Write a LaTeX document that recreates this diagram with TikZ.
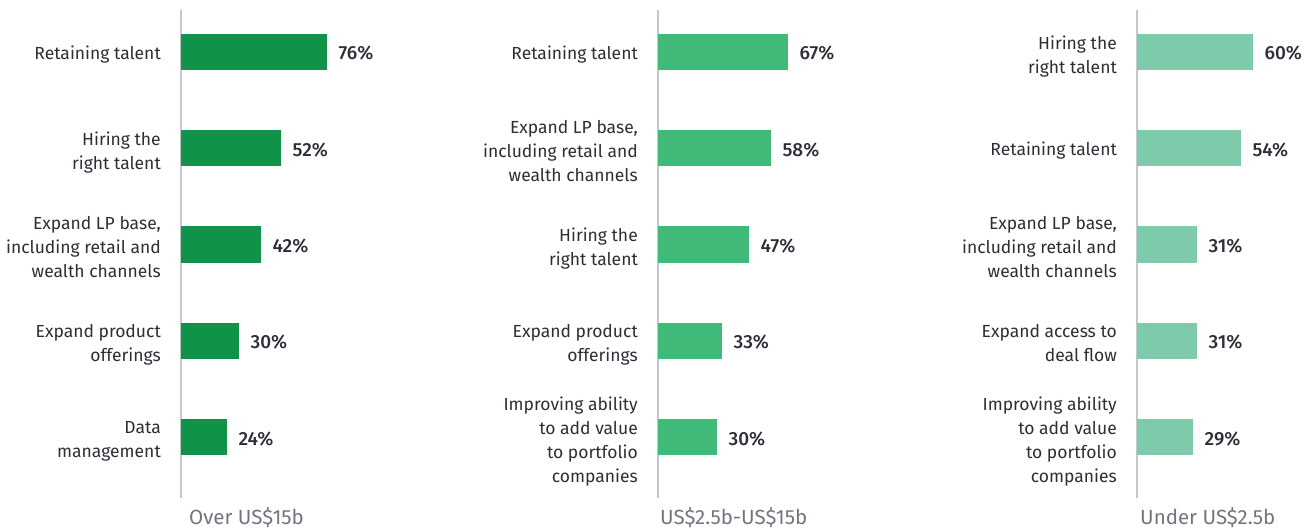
\documentclass[tikz,border=0pt]{standalone}
\usepackage{fontspec}
\setmainfont{Fira Sans}[BoldFont=Fira Sans Medium]
\usepackage{xcolor}
\usetikzlibrary{positioning}

\definecolor{greenA}{RGB}{16,146,72}
\definecolor{greenB}{RGB}{63,186,120}
\definecolor{greenC}{RGB}{126,203,172}
\definecolor{inkT}{RGB}{46,46,56}
\definecolor{inkG}{RGB}{116,116,128}
\definecolor{axisG}{RGB}{196,199,204}

\begin{document}
\begin{tikzpicture}[x=1pt,y=-1pt,
    bar/.style={minimum height=36pt, inner sep=0pt, anchor=west},
    lab/.style={inner sep=0pt, align=right, text=inkT, yshift=-2.7pt,
        execute at begin node=\strut, execute at end node=\strut,
        font=\fontsize{17.5}{24}\selectfont},
    lines/.style={yshift=-3.5pt},
    pct/.style={inner sep=0pt, text=inkT, yshift=-3.2pt,
        execute at begin node=\strut,
        font=\fontsize{19}{24}\selectfont\bfseries},
    grp/.style={inner sep=0pt, anchor=base west, text=inkG, font=\fontsize{20.5}{24}\selectfont},
    axis/.style={axisG, line width=1.2pt}]
    \useasboundingbox (0,0) rectangle (1308,529);
    % Over US$15b
    \draw [axis] (181,10) -- (181,498);
    \node [bar, fill=greenA, minimum width=146pt] (a1) at (181,52) {};
    \node [bar, fill=greenA, minimum width=100pt] (a2) at (181,148.25) {};
    \node [bar, fill=greenA, minimum width=80pt] (a3) at (181,244.5) {};
    \node [bar, fill=greenA, minimum width=58pt] (a4) at (181,340.75) {};
    \node [bar, fill=greenA, minimum width=46pt] (a5) at (181,437) {};
    \node [lab, left=20pt of a1.west] (la1) {Retaining talent};
    \node [lab, lines, left=20pt of a2.west] (la2) {Hiring the\\right talent};
    \node [lab, lines, left=20pt of a3.west] (la3) {Expand LP base,\\including retail and\\wealth channels};
    \node [lab, lines, left=20pt of a4.west] (la4) {Expand product\\offerings};
    \node [lab, lines, left=20pt of a5.west] (la5) {Data\\management};
    \node [pct, right=11pt of a1] (pa1) {76\%};
    \node [pct, right=11pt of a2] (pa2) {52\%};
    \node [pct, right=11pt of a3] (pa3) {42\%};
    \node [pct, right=11pt of a4] (pa4) {30\%};
    \node [pct, right=11pt of a5] (pa5) {24\%};
    \node [grp] (ga) at (189,524) {Over US\$15b};
    % US$2.5b-US$15b
    \draw [axis] (658,10) -- (658,498);
    \node [bar, fill=greenB, minimum width=130pt] (b1) at (658,52) {};
    \node [bar, fill=greenB, minimum width=113pt] (b2) at (658,148.25) {};
    \node [bar, fill=greenB, minimum width=91pt] (b3) at (658,244.5) {};
    \node [bar, fill=greenB, minimum width=64pt] (b4) at (658,340.75) {};
    \node [bar, fill=greenB, minimum width=59pt] (b5) at (658,437) {};
    \node [lab, left=20pt of b1.west] (lb1) {Retaining talent};
    \node [lab, lines, left=20pt of b2.west] (lb2) {Expand LP base,\\including retail and\\wealth channels};
    \node [lab, lines, left=20pt of b3.west] (lb3) {Hiring the\\right talent};
    \node [lab, lines, left=20pt of b4.west] (lb4) {Expand product\\offerings};
    \node [lab, lines, left=20pt of b5.west] (lb5) {Improving ability\\to add value\\to portfolio\\companies};
    \node [pct, right=11pt of b1] (pb1) {67\%};
    \node [pct, right=11pt of b2] (pb2) {58\%};
    \node [pct, right=11pt of b3] (pb3) {47\%};
    \node [pct, right=11pt of b4] (pb4) {33\%};
    \node [pct, right=11pt of b5] (pb5) {30\%};
    \node [grp] (gb) at (660,524) {US\$2.5b-US\$15b};
    % Under US$2.5b
    \draw [axis] (1137,10) -- (1137,498);
    \node [bar, fill=greenC, minimum width=116pt] (c1) at (1137,52) {};
    \node [bar, fill=greenC, minimum width=104pt] (c2) at (1137,148.25) {};
    \node [bar, fill=greenC, minimum width=60pt] (c3) at (1137,244.5) {};
    \node [bar, fill=greenC, minimum width=60pt] (c4) at (1137,340.75) {};
    \node [bar, fill=greenC, minimum width=56pt] (c5) at (1137,437) {};
    \node [lab, lines, left=20pt of c1.west] (lc1) {Hiring the\\right talent};
    \node [lab, left=20pt of c2.west] (lc2) {Retaining talent};
    \node [lab, lines, left=20pt of c3.west] (lc3) {Expand LP base,\\including retail and\\wealth channels};
    \node [lab, lines, left=20pt of c4.west] (lc4) {Expand access to\\deal flow};
    \node [lab, lines, left=20pt of c5.west] (lc5) {Improving ability\\to add value\\to portfolio\\companies};
    \node [pct, right=11pt of c1] (pc1) {60\%};
    \node [pct, right=11pt of c2] (pc2) {54\%};
    \node [pct, right=11pt of c3] (pc3) {31\%};
    \node [pct, right=11pt of c4] (pc4) {31\%};
    \node [pct, right=11pt of c5] (pc5) {29\%};
    \node [grp] (gc) at (1140,524) {Under US\$2.5b};
\end{tikzpicture}
\end{document}
